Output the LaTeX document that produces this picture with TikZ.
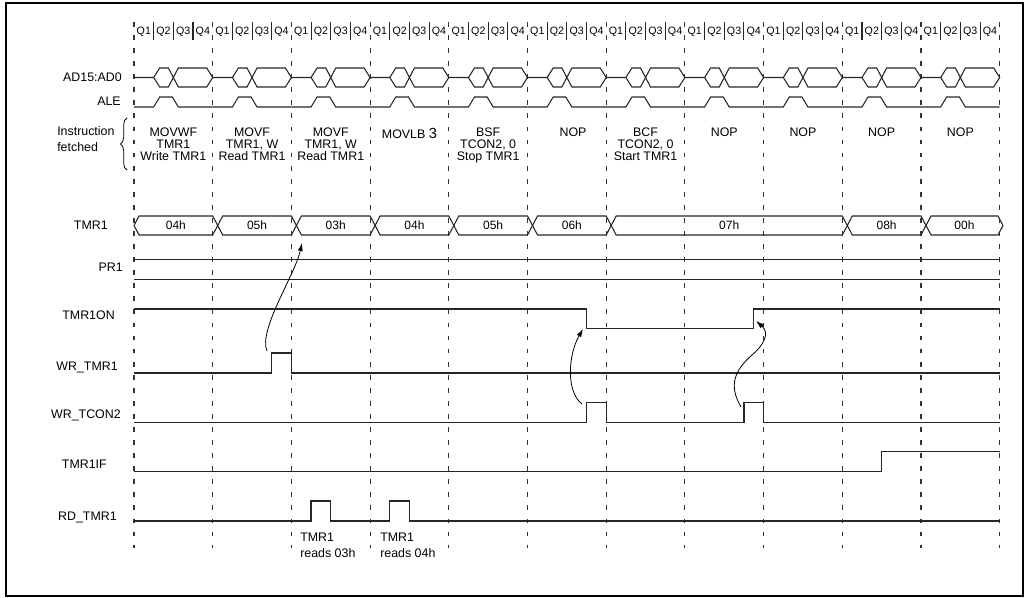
\documentclass[tikz,border=0pt]{standalone}
\usepackage{fontspec}
\setmainfont{Liberation Sans}
\usetikzlibrary{arrows.meta,decorations.pathreplacing}

\tikzset{
  wave/.style={line width=0.8pt,black!85},
  grid/.style={line width=0.8pt,black!80,dash pattern=on 3.6pt off 6.2pt},
  sig/.style={font=\fontsize{9.3}{10}\selectfont,anchor=base east,inner sep=0pt},
  instr/.style={font=\fontsize{9.3}{8.8}\selectfont,align=center,anchor=north,inner sep=0pt},
  qlab/.style={font=\fontsize{8}{8}\selectfont,inner sep=0pt},
  val/.style={font=\fontsize{9}{10}\selectfont,inner sep=0pt},
  hint/.style={-{Latex[length=6pt,width=3.8pt]},line width=0.6pt},
}

\begin{document}
\begin{tikzpicture}[x=0.75pt,y=-0.75pt]
\useasboundingbox (0,0) rectangle (1025,598);
\def\qw{19.675}
\draw[line width=1.5pt] (6,3) rectangle (1023,596);

% cycle boundaries
\foreach \k in {0,...,11}
  \draw[grid] ({134+78.7*\k},22) -- ({134+78.7*\k},548);

% clocks, AD bus and ALE, one instruction cycle at a time
\foreach \k in {0,...,10}{
  \pgfmathsetmacro\a{134+78.7*\k}
  \foreach \i in {1,...,4}
    \node[qlab] (q\k-\i) at ({\a+(\i-0.5)*\qw},32) {Q\i};
  \foreach \i in {1,2,3}
    \draw[wave] ({\a+\i*\qw},22) -- ({\a+\i*\qw},40);
  \draw[wave] (\a,77.5) -- ({\a+\qw},77.5) -- ({\a+\qw+6},68) -- ({\a+2*\qw-5},68)
    -- ({\a+2*\qw+5},87) -- ({\a+4*\qw-6},87) -- ({\a+4*\qw},77.5)
    -- ({\a+4*\qw-6},68) -- ({\a+2*\qw+5},68) -- ({\a+2*\qw-5},87)
    -- ({\a+\qw+6},87) -- ({\a+\qw},77.5);
  \draw[wave] (\a,107) -- ({\a+\qw},107) -- ({\a+\qw+6},97) -- ({\a+2*\qw-1},97)
    -- ({\a+2*\qw+5},107) -- ({\a+4*\qw},107);
}

% signal names
\node[sig] (nad) at (122,82) {AD15:AD0};
\node[sig] (nale) at (121,106) {ALE};
\node[sig] (ntmr) at (108,230) {TMR1};
\node[sig] (npr) at (123,272) {PR1};
\node[sig] (non) at (115,319.5) {TMR1ON};
\node[sig] (nwt) at (118,370.5) {WR\_TMR1};
\node[sig] (nwc) at (121,418.3) {WR\_TCON2};
\node[sig] (nif) at (107,468.3) {TMR1IF};
\node[sig] (nrd) at (117,520) {RD\_TMR1};
\node[font=\fontsize{9.3}{11.5}\selectfont,align=left,anchor=west,inner sep=0pt] (nins) at (57,139) {Instruction\\fetched};
\draw[line width=0.6pt,decorate,decoration={brace,amplitude=5}] (127,170) -- (127,118);

% instructions
\foreach \k/\txt in {0/{MOVWF\\TMR1\\Write TMR1},1/{MOVF\\TMR1, W\\Read TMR1},
    2/{MOVF\\TMR1, W\\Read TMR1},3/{MOVLB {\fontsize{11}{11}\selectfont 3}},
    4/{BSF\\TCON2, 0\\Stop TMR1},6/{BCF\\TCON2, 0\\Start TMR1},
    7/NOP,8/NOP,9/NOP,10/NOP}
  \node[instr] (ins\k) at ({173.35+78.7*\k},128) {\txt};
\node[instr] (ins5) at (573,128) {NOP};

% TMR1 register
\foreach \s/\e/\v in {129/212.7/04h,212.7/291.4/05h,291.4/370.1/03h,370.1/448.8/04h,
    448.8/527.5/05h,527.5/606.2/06h,606.2/842.3/07h,842.3/921/08h,921/998/00h}{
  \draw[wave] (\s+5,225.5) -- (\s+10,216) -- (\e,216) -- (\e+5,225.5)
    -- (\e,235) -- (\s+10,235) -- cycle;
  \node[val] (r\s) at ({(\s+\e)/2+5},225.5) {\v};
}

% PR1
\draw[wave] (134,259.5) -- (1000,259.5);
\draw[wave] (134,279.5) -- (1000,279.5);
% TMR1ON
\draw[wave] (134,309) -- (586.7,309) -- (586.7,328.7) -- (753.3,328.7) -- (753.3,309) -- (1000,309);
% WR_TMR1
\draw[wave] (134,373) -- (271.7,373) -- (271.7,353) -- (291.4,353) -- (291.4,373) -- (1000,373);
% WR_TCON2
\draw[wave] (134,422.3) -- (586.8,422.3) -- (586.8,402.7) -- (606.2,402.7) -- (606.2,422.3)
  -- (744,422.3) -- (744,402.7) -- (763.6,402.7) -- (763.6,422.3) -- (1000,422.3);
% TMR1IF
\draw[wave] (134,471.7) -- (881.6,471.7) -- (881.6,451.7) -- (1000,451.7);
% RD_TMR1
\draw[wave] (134,521) -- (311,521) -- (311,501) -- (330.8,501) -- (330.8,521)
  -- (389.7,521) -- (389.7,501) -- (409.4,501) -- (409.4,521) -- (1000,521);
\node[font=\fontsize{9.3}{12}\selectfont,align=left,anchor=north west,inner sep=0pt] (rd1) at (300,532.5) {TMR1\\reads 03h};
\node[font=\fontsize{9.3}{12}\selectfont,align=left,anchor=north west,inner sep=0pt] (rd2) at (380,532.5) {TMR1\\reads 04h};

% cause and effect
\coordinate (w1) at (267,351); \coordinate (t1) at (302,243);
\coordinate (c1) at (582,404); \coordinate (o1) at (583,329);
\coordinate (c2) at (741,407); \coordinate (o2) at (756,321);
\draw[hint] (w1) .. controls (258,330) and (295,275) .. (t1);
\draw[hint] (c1) .. controls (566,392) and (568,355) .. (o1);
\draw[hint] (c2) .. controls (728,385) and (735,370) .. (752,355) .. controls (764,345) and (770,333) .. (o2);
\end{tikzpicture}
\end{document}
